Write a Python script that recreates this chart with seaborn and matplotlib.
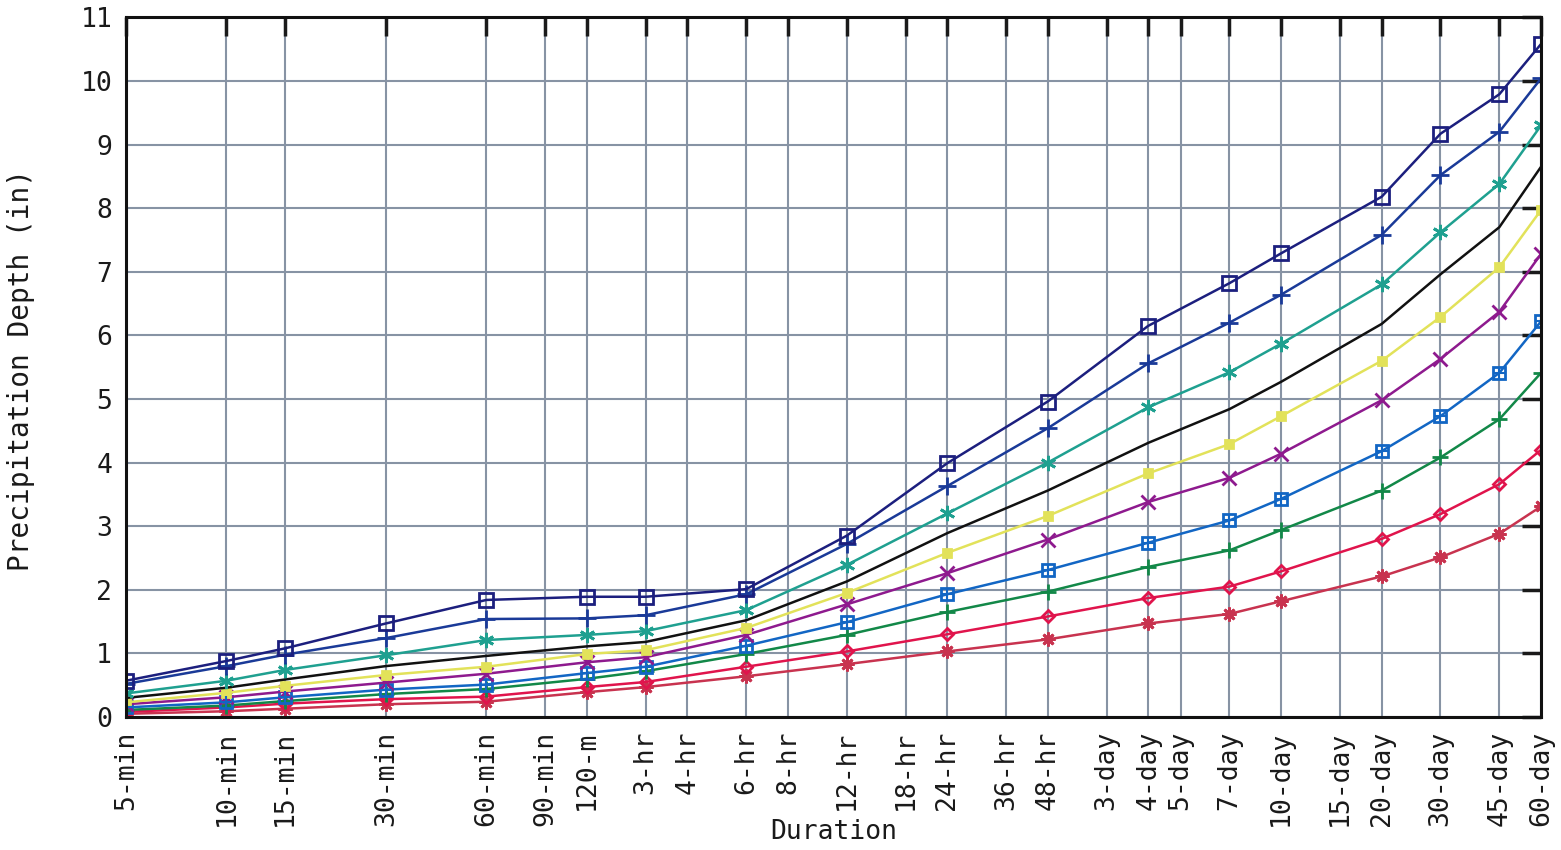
import numpy as np
import pandas as pd
import matplotlib
matplotlib.use("Agg")
import matplotlib.pyplot as plt
import seaborn as sns

# durations in minutes (5-min ... 60-day)
durations = [5, 10, 15, 30, 60, 120, 180, 360, 720, 1440, 2880,
             5760, 10080, 14400, 28800, 43200, 64800, 86400]

depth_1yr = [0.05, 0.09, 0.13, 0.20, 0.24, 0.39, 0.47, 0.64, 0.83, 1.03, 1.22,
             1.47, 1.62, 1.82, 2.21, 2.51, 2.88, 3.31]
depth_2yr = [0.08, 0.15, 0.21, 0.28, 0.32, 0.47, 0.55, 0.79, 1.03, 1.30, 1.58,
             1.87, 2.05, 2.29, 2.80, 3.19, 3.66, 4.20]
depth_5yr = [0.11, 0.18, 0.25, 0.36, 0.44, 0.60, 0.72, 0.99, 1.29, 1.65, 1.97,
             2.36, 2.62, 2.94, 3.56, 4.08, 4.68, 5.41]
depth_10yr = [0.15, 0.23, 0.31, 0.43, 0.51, 0.69, 0.79, 1.12, 1.49, 1.93, 2.31,
              2.74, 3.09, 3.43, 4.18, 4.73, 5.41, 6.22]
depth_25yr = [0.20, 0.31, 0.40, 0.54, 0.68, 0.86, 0.94, 1.29, 1.77, 2.26, 2.79,
              3.38, 3.76, 4.14, 4.98, 5.63, 6.37, 7.28]
depth_50yr = [0.23, 0.38, 0.49, 0.66, 0.79, 0.99, 1.05, 1.40, 1.95, 2.58, 3.16,
              3.83, 4.29, 4.73, 5.60, 6.29, 7.07, 7.97]
depth_100yr = [0.30, 0.46, 0.59, 0.80, 0.96, 1.11, 1.18, 1.52, 2.13, 2.89, 3.56,
               4.31, 4.84, 5.27, 6.18, 6.96, 7.70, 8.65]
depth_200yr = [0.37, 0.57, 0.74, 0.97, 1.21, 1.29, 1.35, 1.68, 2.39, 3.20, 4.00,
               4.87, 5.42, 5.87, 6.80, 7.62, 8.38, 9.30]
depth_500yr = [0.52, 0.80, 0.98, 1.24, 1.54, 1.55, 1.60, 1.93, 2.72, 3.63, 4.54,
               5.56, 6.20, 6.64, 7.58, 8.52, 9.20, 10.04]
depth_1000yr = [0.57, 0.88, 1.08, 1.47, 1.84, 1.89, 1.89, 2.01, 2.85, 3.99, 4.96,
                6.15, 6.82, 7.29, 8.18, 9.17, 9.79, 10.58]

tick_minutes = [5, 10, 15, 30, 60, 90, 120, 180, 240, 360, 480, 720, 1080, 1440,
                2160, 2880, 4320, 5760, 7200, 10080, 14400, 21600, 28800, 43200,
                64800, 86400]
tick_labels = ["5-min", "10-min", "15-min", "30-min", "60-min", "90-min", "120-m",
               "3-hr", "4-hr", "6-hr", "8-hr", "12-hr", "18-hr", "24-hr", "36-hr",
               "48-hr", "3-day", "4-day", "5-day", "7-day", "10-day", "15-day",
               "20-day", "30-day", "45-day", "60-day"]

# (values, color, marker, marker size, open marker)
series = [
    (depth_1yr, "#c8334f", (8, 2, 0), 10, False),
    (depth_2yr, "#e0144c", "D", 6, True),
    (depth_5yr, "#128848", "+", 12, False),
    (depth_10yr, "#1266c4", "s", 9, True),
    (depth_25yr, "#8e1a8e", "x", 10, False),
    (depth_50yr, "#e2e25a", "s", 6, False),
    (depth_100yr, "#111111", None, 0, False),
    (depth_200yr, "#1fa090", (6, 2, 0), 11, False),
    (depth_500yr, "#1a3a98", "+", 13, False),
    (depth_1000yr, "#1c1f7e", "s", 10, True),
]

sns.set_style("white")
plt.rcParams['font.family'] = ['DejaVu Sans Mono']

fig = plt.figure(figsize=(15.61, 8.5), dpi=100)
ax = fig.add_axes([0.0807, 0.1565, 0.9065, 0.8231])

for vals, col, mk, ms, hollow in series:
    kw = dict(color=col, linewidth=1.8, ax=ax)
    if mk is not None:
        kw.update(marker=mk, markersize=ms, markeredgecolor=col, markeredgewidth=2,
                  markerfacecolor="none" if hollow else col)
    sns.lineplot(x=durations, y=vals, **kw)

# the 10-yr squares carry a cross inside
sns.lineplot(x=durations, y=depth_10yr, color="#1266c4", linewidth=0, marker="+",
             markersize=8, markeredgecolor="#1266c4", markeredgewidth=1.5, ax=ax)

ax.set_xscale("log")
ax.set_xlim(5, 86400)
ax.set_ylim(0, 11)
ax.set_xticks(tick_minutes)
ax.set_xticklabels(tick_labels, rotation=90)
ax.xaxis.set_minor_locator(matplotlib.ticker.NullLocator())
ax.set_yticks(range(0, 12))

ax.set_axisbelow(True)
ax.grid(True, color="#8793a4", linewidth=1.5)
ax.tick_params(axis="both", which="major", direction="in", length=14, width=2.5,
               top=True, right=True, labelsize=19, colors="#1a1a1a", pad=10)
ax.tick_params(axis="x", pad=10)
for s in ax.spines.values():
    s.set_color("#111111")
    s.set_linewidth(2.2)

ax.set_xlabel("Duration", fontsize=19, color="#1a1a1a")
ax.xaxis.set_label_coords(0.5, -0.146)
ax.set_ylabel("Precipitation Depth (in)", fontsize=20, color="#1a1a1a")
ax.yaxis.set_label_coords(-0.064, 0.496)

fig.savefig("out.png", dpi=100, facecolor="white")
